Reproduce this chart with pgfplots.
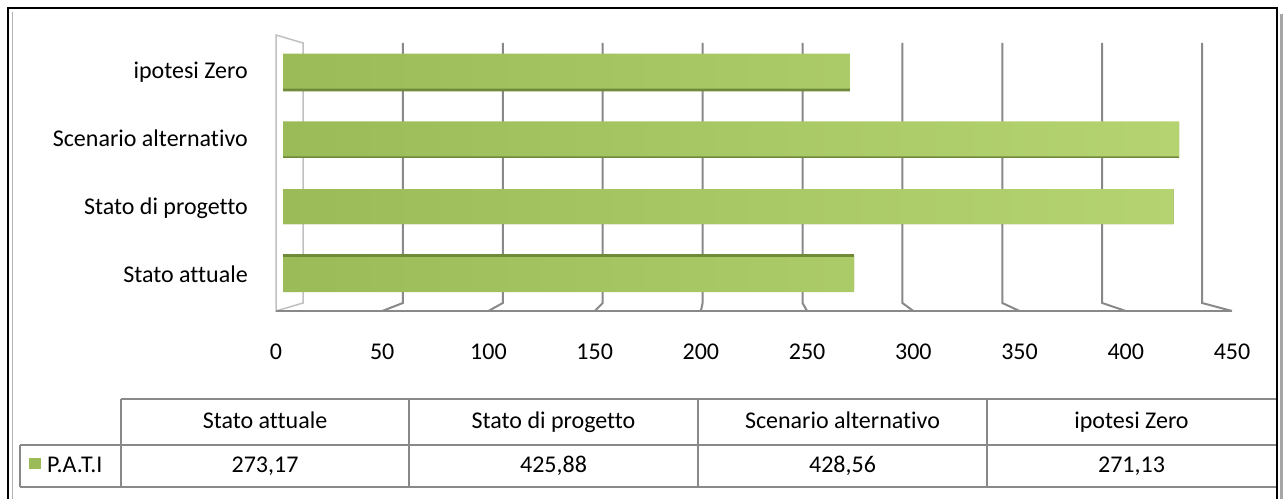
\documentclass[border=0pt]{standalone}
\usepackage{fontspec}
\setmainfont[Ligatures=NoCommon]{Carlito}
\usepackage{pgfplots}
\pgfplotsset{compat=1.18}
\definecolor{barA}{RGB}{155,187,89}
\definecolor{barB}{RGB}{181,212,113}
\definecolor{barD}{RGB}{112,138,58}
\definecolor{gridc}{RGB}{137,137,137}
\definecolor{wallc}{RGB}{192,192,192}
\definecolor{tabc}{RGB}{137,137,137}
\newcommand{\tf}{\fontsize{24}{28}\selectfont}
\begin{document}
\begin{tikzpicture}
\begin{scope}[x=1pt,y=1pt]
\path[use as bounding box] (0,0) rectangle (1285,497);
% 3D walls and gridlines (image px -> y = 497 - px)
\draw[wallc, line width=1.5pt] (276,186) -- (276,462) -- (303,454) -- (303,194) -- cycle;
\foreach \k in {1,...,9} {
  \draw[gridc, line width=2pt] ({303+99.9*\k},454) -- ({303+99.9*\k},194) -- ({276+106.22*\k},186);
}
\draw[gridc, line width=2pt] (276,186) -- (1232,186);
\end{scope}
\begin{axis}[
  at={(276pt,186pt)}, anchor=south west,
  scale only axis, width=956pt, height=276pt,
  xmin=-3.348, xmax=453.85, ymin=-0.538, ymax=3.531,
  axis line style={draw=none}, tick style={draw=none},
  xtick={-3.348,47.45,98.25,149.05,199.85,250.65,301.45,352.25,403.05,453.85},
  xticklabels={0,50,100,150,200,250,300,350,400,450},
  ytick={0,1,2,3},
  yticklabels={Stato attuale,Stato di progetto,Scenario alternativo,ipotesi Zero},
  xticklabel style={anchor=base, yshift=-49pt, inner sep=0pt, font=\tf},
  yticklabel style={anchor=base east, xshift=-28pt, yshift=-7.5pt, inner sep=0pt, font=\tf},
  clip=false,
]
% shadow faces of the 3D bars
\addplot[xbar, bar width=0.516, draw=none, fill=barD]
  coordinates {(273.17,0.044) (425.88,1) (428.56,1.978) (271.13,2.956)};
% bars
\addplot[xbar, bar width=0.516, draw=none, left color=barA, right color=barB]
  coordinates {(273.17,0) (425.88,1) (428.56,2) (271.13,3)};
\end{axis}
\begin{scope}[x=1pt,y=1pt]
% data table
\begin{scope}[tabc, line width=2pt]
\draw (121,98) -- (1276,98);
\draw (20,52) -- (1276,52);
\draw (20,10) -- (1276,10);
\draw (20,52) -- (20,10);
\foreach \x in {121,409,698,987} {\draw (\x,98) -- (\x,10);}
\end{scope}
\begin{scope}[font=\tf, every node/.style={anchor=base, inner sep=0pt}]
\node at (265,68) {Stato attuale};
\node at (553.5,68) {Stato di progetto};
\node at (842.5,68) {Scenario alternativo};
\node at (1131.5,68) {ipotesi Zero};
\node at (265,24) {273,17};
\node at (553.5,24) {425,88};
\node at (842.5,24) {428,56};
\node at (1131.5,24) {271,13};
\fill[barA] (29,28) rectangle (41,39);
\node[anchor=base west] at (47,24) {P.A.T.I};
\end{scope}
% outer frame
\draw[black, line width=2.5pt] (8,-2) -- (8,489) -- (1277,489) -- (1277,-2);
\draw[gray!60, line width=1pt] (12.5,-2) -- (12.5,485);
\draw[gray!70, line width=3pt] (1281,-2) -- (1281,483);
\end{scope}
\end{tikzpicture}
\end{document}
